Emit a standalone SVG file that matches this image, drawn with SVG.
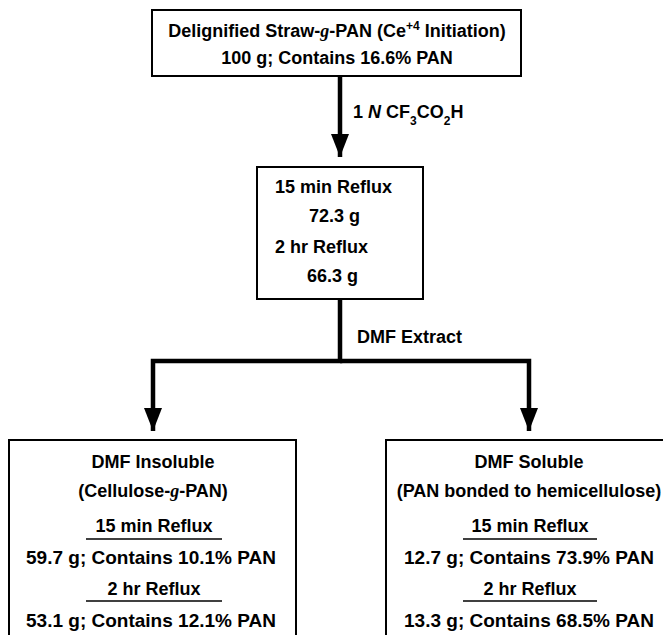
<svg xmlns="http://www.w3.org/2000/svg" width="663" height="635" viewBox="0 0 663 635">
<defs>
<style>
.t{font-family:"Liberation Sans",Arial,sans-serif;font-weight:bold;font-size:18px;fill:#000}
.d{font-size:19px}
.c{text-anchor:middle}
.box{fill:#fff;stroke:#000;stroke-width:2}
.conn{fill:none;stroke:#000;stroke-width:4.5;stroke-linejoin:miter}
.ul{stroke:#000;stroke-width:1.6}
.gi{font-family:"Liberation Serif",serif;font-style:italic}
</style>
<marker id="ah" viewBox="0 0 23 18" refX="23" refY="9" markerWidth="23" markerHeight="18" markerUnits="userSpaceOnUse" orient="auto">
<path d="M0,0 L23,9 L0,18 z" fill="#000"/>
</marker>
</defs>
<rect width="663" height="635" fill="#fff"/>
<g id="connectors">
<path class="conn" d="M340,76 V157" marker-end="url(#ah)"/>
<path class="conn" d="M340,299 V361 H153 V431" marker-end="url(#ah)"/>
<path class="conn" d="M340,361 H529 V431" marker-end="url(#ah)"/>
<text class="t" x="353" y="118">1 <tspan font-style="italic">N</tspan> CF<tspan font-size="12" baseline-shift="sub">3</tspan>CO<tspan font-size="12" baseline-shift="sub">2</tspan>H</text>
<text class="t" x="357" y="343">DMF Extract</text>
</g>
<g id="node-start">
<rect class="box" x="152" y="10" width="369" height="66"/>
<text class="t c" x="337" y="37">Delignified Straw-<tspan class="gi">g</tspan>-PAN (Ce<tspan font-size="12" baseline-shift="super">+4</tspan> Initiation)</text>
<text class="t c" x="337" y="64">100 g; Contains 16.6% PAN</text>
</g>
<g id="node-reflux">
<rect class="box" x="257" y="167" width="166" height="132"/>
<text class="t" x="275" y="193">15 min Reflux</text>
<text class="t" x="309" y="222">72.3 g</text>
<text class="t" x="275" y="253">2 hr Reflux</text>
<text class="t" x="307" y="282">66.3 g</text>
</g>
<g id="node-insoluble">
<rect class="box" x="9" y="440" width="287" height="210"/>
<text class="t c" x="153" y="468">DMF Insoluble</text>
<text class="t c" x="153" y="497">(Cellulose-<tspan class="gi">g</tspan>-PAN)</text>
<text class="t c" x="154" y="532">15 min Reflux</text>
<line class="ul" x1="86" y1="539" x2="222" y2="539"/>
<text class="t d c" x="151" y="564">59.7 g; Contains 10.1% PAN</text>
<text class="t c" x="154" y="595">2 hr Reflux</text>
<line class="ul" x1="86" y1="601" x2="222" y2="601"/>
<text class="t d c" x="151" y="627">53.1 g; Contains 12.1% PAN</text>
</g>
<g id="node-soluble">
<rect class="box" x="386" y="440" width="300" height="210"/>
<text class="t c" x="529" y="468">DMF Soluble</text>
<text class="t c" x="529" y="497">(PAN bonded to hemicellulose)</text>
<text class="t c" x="530" y="532">15 min Reflux</text>
<line class="ul" x1="463" y1="539" x2="597" y2="539"/>
<text class="t d c" x="529" y="564">12.7 g; Contains 73.9% PAN</text>
<text class="t c" x="530" y="595">2 hr Reflux</text>
<line class="ul" x1="463" y1="601" x2="597" y2="601"/>
<text class="t d c" x="529" y="627">13.3 g; Contains 68.5% PAN</text>
</g>
</svg>
